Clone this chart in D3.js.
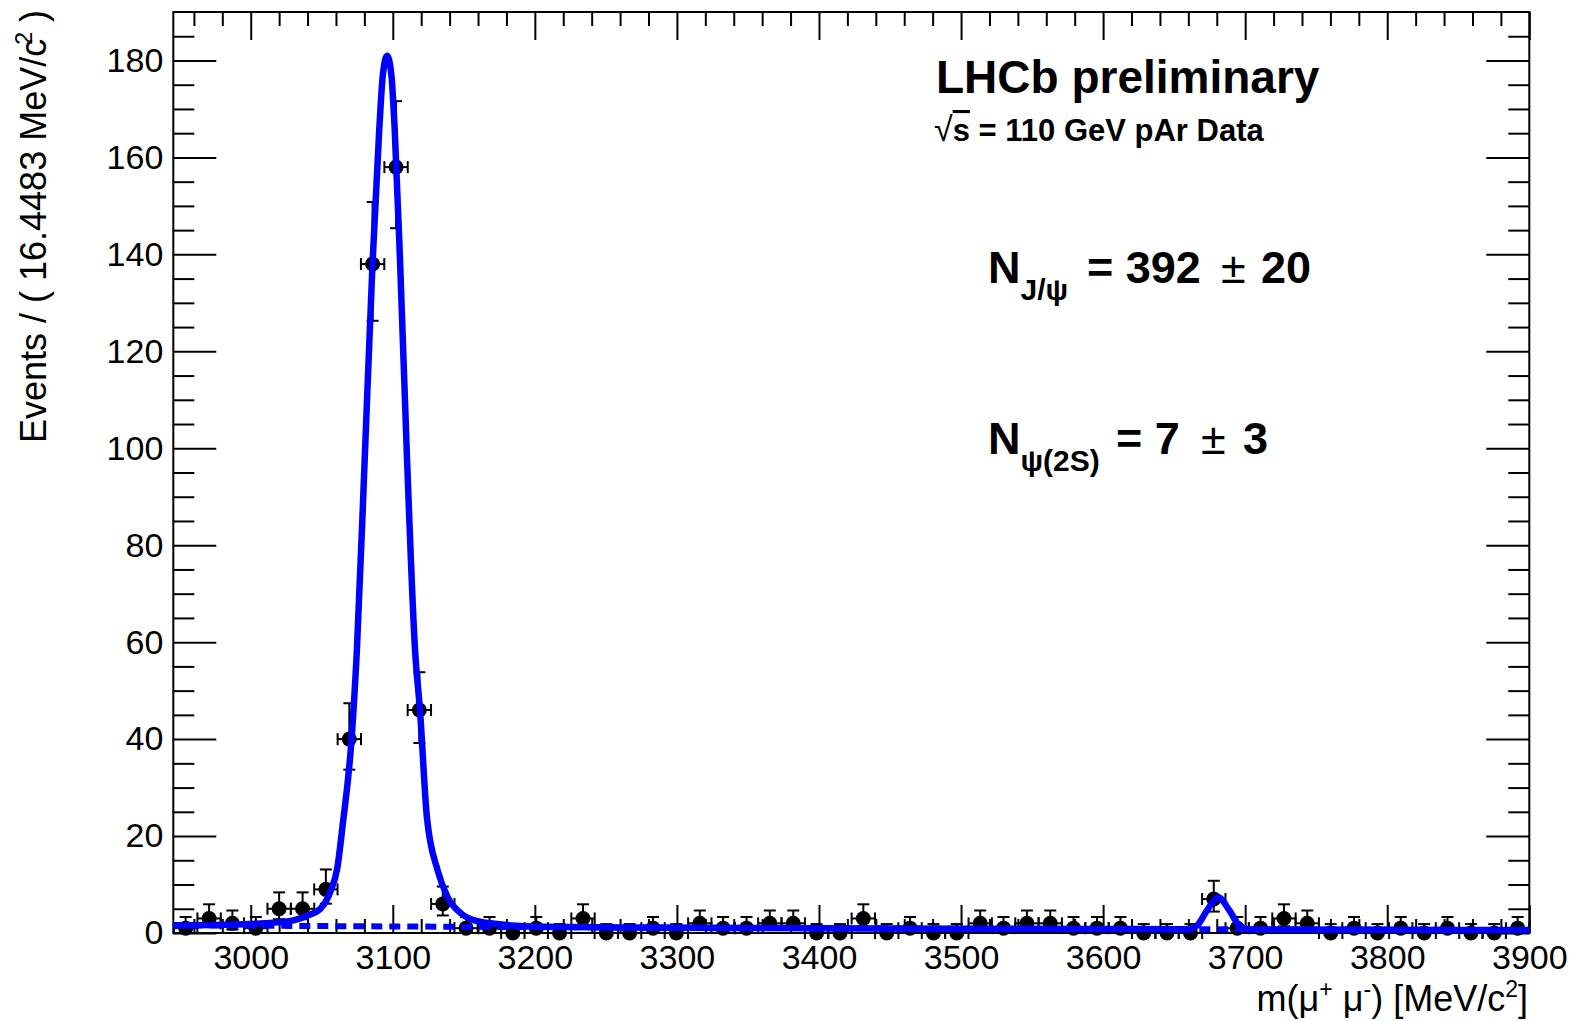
<!DOCTYPE html>
<html>
<head>
<meta charset="utf-8">
<script src="https://cdn.jsdelivr.net/npm/d3@7"></script>
<style>
  body { margin: 0; background: #fff; }
  svg { display: block; font-family: "Liberation Sans", Arial, sans-serif; }
  .tick line { stroke: #000; stroke-width: 2; }
</style>
</head>
<body>
<svg id="plot" width="1576" height="1021"></svg>
<script>
// bin centres of the m(mu+ mu-) histogram (bins are 16.4483 MeV wide)
const binCenters = [
  2954.2, 2970.7, 2987.1, 3003.6, 3020.0, 3036.5, 3052.9, 3069.4, 3085.8, 3102.3,
  3118.7, 3135.2, 3151.6, 3168.1, 3184.5, 3201.0, 3217.4, 3233.9, 3250.3, 3266.7,
  3283.2, 3299.6, 3316.1, 3332.5, 3349.0, 3365.4, 3381.9, 3398.3, 3414.8, 3431.2,
  3447.7, 3464.1, 3480.6, 3497.0, 3513.5, 3529.9, 3546.4, 3562.8, 3579.2, 3595.7,
  3612.2, 3628.6, 3645.0, 3661.5, 3677.9, 3694.4, 3710.8, 3727.3, 3743.7, 3760.2,
  3776.6, 3793.1, 3809.5, 3826.0, 3842.4, 3858.9, 3875.3, 3891.8
];
const counts = [
  1, 3, 2, 1, 5, 5, 9, 40, 138, 158,
  46, 6, 1, 1, 0, 1, 0, 3, 0, 0,
  1, 0, 2, 1, 1, 2, 2, 0, 0, 3,
  0, 1, 0, 0, 2, 1, 2, 2, 1, 1,
  1, 0, 0, 0, 7, 1, 1, 3, 2, 0,
  1, 0, 1, 0, 1, 0, 0, 1
];
const halfBin = 8.224;

// asymmetric error bars [down, up] for each number of entries
const poissonErr = {
  0: [0, 1.84], 1: [0.83, 2.30], 2: [1.29, 2.64], 3: [1.63, 2.92],
  5: [2.16, 3.38], 6: [2.38, 3.58], 7: [2.58, 3.77], 9: [2.95, 4.11],
  40: [6.3, 7.4], 46: [6.8, 7.8], 138: [11.7, 12.8], 158: [12.6, 13.6]
};

// total fit curve
const fitMass = [
  2945.5, 2980, 3010, 3030, 3040, 3049, 3056, 3061, 3064.6, 3070.9,
  3074.7, 3080, 3085.7, 3090.4, 3093, 3096, 3099, 3101.4, 3105.2, 3110,
  3115.7, 3119.2, 3124, 3131.6, 3138.6, 3148.2, 3157.6, 3171.7, 3204.6, 3300,
  3400, 3500, 3600, 3660, 3666, 3673, 3681, 3689, 3696, 3702,
  3800, 3900
];
const fitValue = [
  1.6, 1.7, 2.0, 2.6, 3.6, 5.0, 8.5, 13.5, 22, 39.7,
  58.2, 96, 137.9, 165.4, 177, 181, 177, 165.4, 137.9, 98,
  58.2, 45.7, 23.9, 12.9, 7.4, 4.0, 2.6, 1.9, 1.3, 1.1,
  1.0, 0.9, 0.82, 0.78, 1.5, 4.6, 7.4, 4.6, 1.5, 0.76,
  0.68, 0.6
];

// background component (dashed)
const bkgMass = [2945.5, 3100, 3300, 3500, 3700, 3900];
const bkgValue = [1.6, 1.35, 1.1, 0.9, 0.75, 0.6];

const xTicks = [3000, 3100, 3200, 3300, 3400, 3500, 3600, 3700, 3800, 3900];
const yTicks = [0, 20, 40, 60, 80, 100, 120, 140, 160, 180];

const W = 1576, H = 1021;
const frame = { left: 173.3, right: 1529.3, top: 12, bottom: 933 };

const svg = d3.select("#plot");
svg.append("rect").attr("width", W).attr("height", H).attr("fill", "#fff");

const x = d3.scaleLinear().domain([2945.5, 3900]).range([frame.left, frame.right]);
const y = d3.scaleLinear().domain([0, 190]).range([frame.bottom, frame.top]);

const xMinor = d3.range(2960, 3900, 20).filter(v => v % 100 !== 0);
const yMinor = d3.range(0, 190, 5).filter(v => v % 20 !== 0);

function styleAxis(g) {
  g.select(".domain").remove();
  g.selectAll("text").attr("fill", "#000").attr("font-size", 34)
    .attr("font-family", "Liberation Sans, Arial, sans-serif");
  g.attr("font-family", null);
}

// bottom axis
svg.append("g").attr("transform", `translate(0,${frame.bottom})`)
  .call(d3.axisBottom(x).tickValues(xTicks).tickSize(-28).tickPadding(12).tickFormat(d3.format("d")))
  .call(styleAxis);
svg.append("g").attr("transform", `translate(0,${frame.bottom})`)
  .call(d3.axisBottom(x).tickValues(xMinor).tickSize(-14).tickFormat(""))
  .call(styleAxis);
// top axis
svg.append("g").attr("transform", `translate(0,${frame.top})`)
  .call(d3.axisTop(x).tickValues(xTicks).tickSize(-28).tickFormat(""))
  .call(styleAxis);
svg.append("g").attr("transform", `translate(0,${frame.top})`)
  .call(d3.axisTop(x).tickValues(xMinor).tickSize(-14).tickFormat(""))
  .call(styleAxis);
// left axis
svg.append("g").attr("transform", `translate(${frame.left},0)`)
  .call(d3.axisLeft(y).tickValues(yTicks).tickSize(-43).tickPadding(10))
  .call(styleAxis);
svg.append("g").attr("transform", `translate(${frame.left},0)`)
  .call(d3.axisLeft(y).tickValues(yMinor).tickSize(-21).tickFormat(""))
  .call(styleAxis);
// right axis
svg.append("g").attr("transform", `translate(${frame.right},0)`)
  .call(d3.axisRight(y).tickValues(yTicks).tickSize(-43).tickFormat(""))
  .call(styleAxis);
svg.append("g").attr("transform", `translate(${frame.right},0)`)
  .call(d3.axisRight(y).tickValues(yMinor).tickSize(-21).tickFormat(""))
  .call(styleAxis);

svg.append("rect")
  .attr("x", frame.left).attr("y", frame.top)
  .attr("width", frame.right - frame.left).attr("height", frame.bottom - frame.top)
  .attr("fill", "none").attr("stroke", "#000").attr("stroke-width", 2);

// data points with error bars
const data = binCenters.map((m, i) => ({ m, n: counts[i], err: poissonErr[counts[i]] }));
const pts = svg.append("g").attr("stroke", "#000").attr("stroke-width", 2);
const cap = 6;
data.forEach(d => {
  const cx = x(d.m), cy = y(d.n);
  const yHi = y(d.n + d.err[1]), yLo = y(d.n - d.err[0]);
  const xl = x(d.m - halfBin), xr = x(d.m + halfBin);
  pts.append("line").attr("x1", xl).attr("x2", xr).attr("y1", cy).attr("y2", cy);
  pts.append("line").attr("x1", xl).attr("x2", xl).attr("y1", cy - cap).attr("y2", cy + cap);
  pts.append("line").attr("x1", xr).attr("x2", xr).attr("y1", cy - cap).attr("y2", cy + cap);
  pts.append("line").attr("x1", cx).attr("x2", cx).attr("y1", yHi).attr("y2", yLo);
  pts.append("line").attr("x1", cx - cap).attr("x2", cx + cap).attr("y1", yHi).attr("y2", yHi);
  if (d.err[0] > 0)
    pts.append("line").attr("x1", cx - cap).attr("x2", cx + cap).attr("y1", yLo).attr("y2", yLo);
  pts.append("circle").attr("cx", cx).attr("cy", cy).attr("r", 7.5).attr("fill", "#000").attr("stroke", "none");
});

// fit curves
const bkgLine = d3.line().x((m, i) => x(m)).y((m, i) => y(bkgValue[i])).curve(d3.curveMonotoneX);
svg.append("path").attr("d", bkgLine(bkgMass))
  .attr("fill", "none").attr("stroke", "#0000ff").attr("stroke-width", 6)
  .attr("stroke-dasharray", "11,7");

const fitLine = d3.line().x((m, i) => x(m)).y((m, i) => y(fitValue[i])).curve(d3.curveMonotoneX);
svg.append("path").attr("d", fitLine(fitMass))
  .attr("fill", "none").attr("stroke", "#0000ff").attr("stroke-width", 6.5)
  .attr("stroke-linejoin", "round");

// labels
svg.append("text").attr("x", 936).attr("y", 93)
  .attr("font-size", 46).attr("font-weight", "bold").text("LHCb preliminary");

const sq = svg.append("text").attr("x", 934).attr("y", 141)
  .attr("font-size", 31).attr("font-weight", "bold");
sq.append("tspan").attr("font-weight", "normal").attr("font-size", 34).text("√");
sq.append("tspan").style("text-decoration", "overline").text("s");
sq.append("tspan").text(" = 110 GeV pAr Data");

function yieldLabel(yy, sub, parts, xs) {
  const t = svg.append("text").attr("y", yy)
    .attr("font-size", 45).attr("font-weight", "bold");
  t.append("tspan").attr("x", 988).text("N");
  t.append("tspan").attr("font-size", 30).attr("dy", 17).text(sub);
  t.append("tspan").attr("dy", -17).attr("x", xs[0]).text(parts[0]);
  t.append("tspan").attr("font-weight", "normal").attr("x", xs[1]).text("±");
  t.append("tspan").attr("x", xs[2]).text(parts[1]);
}
yieldLabel(283, "J/ψ", ["= 392", "20"], [1087, 1221, 1261]);
yieldLabel(454, "ψ(2S)", ["= 7", "3"], [1116, 1201, 1243]);

// axis titles
const xt = svg.append("text").attr("x", 1528).attr("y", 1011)
  .attr("text-anchor", "end").attr("font-size", 36);
xt.append("tspan").text("m(μ");
xt.append("tspan").attr("font-size", 23).attr("dy", -14).text("+");
xt.append("tspan").attr("dy", 14).text(" μ");
xt.append("tspan").attr("font-size", 23).attr("dy", -14).text("-");
xt.append("tspan").attr("dy", 14).text(") [MeV/c");
xt.append("tspan").attr("font-size", 23).attr("dy", -14).text("2");
xt.append("tspan").attr("dy", 14).text("]");

const yt = svg.append("text").attr("transform", "translate(46,10) rotate(-90)")
  .attr("text-anchor", "end").attr("font-size", 36);
yt.append("tspan").text("Events / ( 16.4483 MeV/c");
yt.append("tspan").attr("font-size", 23).attr("dy", -14).attr("dx", -6).text("2");
yt.append("tspan").attr("dy", 14).text(" )");
</script>
</body>
</html>
